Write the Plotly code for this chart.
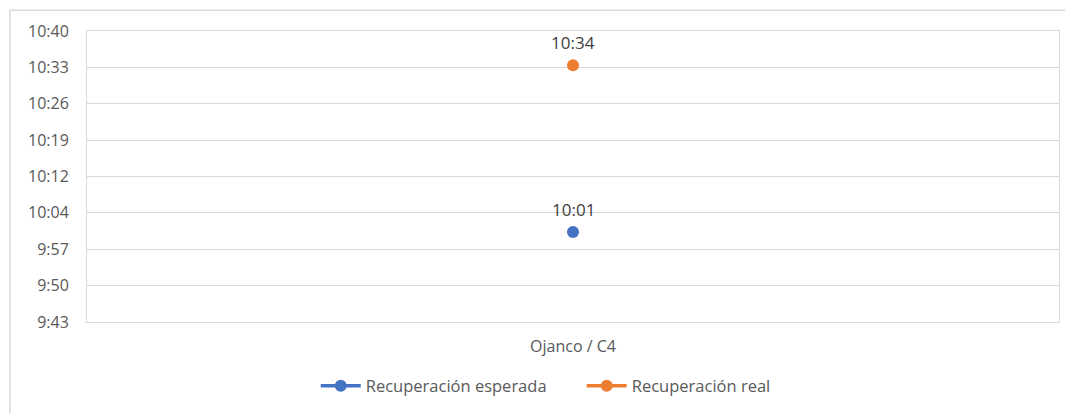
import plotly.graph_objects as go

categories = ["Ojanco / C4"]
esperada = ["10:01"]
real = ["10:34"]
series_names = ["Recuperación esperada", "Recuperación real"]
series_colors = ["#4472C4", "#ED7D31"]

def to_min(s):
    h, m = s.split(":")
    return int(h) * 60 + int(m)

def fmt(v):
    v = int(v + 1e-6)
    return f"{v // 60}:{v % 60:02d}"

# Axis like Excel: 0.005 day steps (7.2 min) from 9:43.2 to 10:40.8
y0, step, n = 583.2, 7.2, 9
tickvals = [y0 + i * step for i in range(n)]
ticktext = [fmt(v) for v in tickvals]

# page offset (body margin) compensation
OX, OY = 8, 8
L, T, PW, PH = 87 - OX, 27 - OY, 972, 295

fig = go.Figure()
annotations = []
for name, vals, col in zip(series_names, [esperada, real], series_colors):
    ys = [to_min(v) for v in vals]
    fig.add_trace(go.Scatter(
        x=categories, y=ys, name=name,
        mode="lines+markers",
        line=dict(color=col, width=3.5),
        marker=dict(color=col, size=12),
        cliponaxis=False,
    ))
    for c, v, yy in zip(categories, vals, ys):
        annotations.append(dict(x=c, y=yy, text=v, showarrow=False,
                                yshift=23, yanchor="middle", xanchor="center",
                                font=dict(family="Open Sans", size=17, color="#404040")))

fig.update_layout(
    width=1073, height=413,
    margin=dict(l=L, r=1073 - L - PW, t=T, b=413 - T - PH),
    paper_bgcolor="white", plot_bgcolor="white",
    font=dict(family="Open Sans", size=16, color="#595959"),
    showlegend=True,
    annotations=annotations,
    legend=dict(orientation="h", x=0.509, xanchor="center", y=-0.2204, yanchor="middle",
                font=dict(size=16.5, color="#595959"), itemwidth=40,
                entrywidth=211, traceorder="normal"),
    xaxis=dict(type="category", range=[-0.5, 0.5], showgrid=False,
               showline=True, linecolor="#d9d9d9", linewidth=1, mirror=True,
               zeroline=False, ticks="", tickfont=dict(size=16, color="#595959"),
               ticklabelstandoff=10),
    yaxis=dict(range=[tickvals[0], tickvals[-1]], tickvals=tickvals, ticktext=ticktext,
               showgrid=True, gridcolor="#d9d9d9", gridwidth=1,
               showline=True, linecolor="#d9d9d9", linewidth=1, mirror=True,
               zeroline=False, ticks="", tickfont=dict(size=16, color="#595959"),
               ticklabelstandoff=14),
    shapes=[dict(type="rect", xref="paper", yref="paper",
                 x0=(10 - 87) / PW, x1=(1090 - 87) / PW,
                 y0=(322 - 440) / PH, y1=(322 - 6) / PH,
                 line=dict(color="#d9d9d9", width=1.5), fillcolor="rgba(0,0,0,0)",
                 layer="below")],
)

fig.write_html("out.html")
